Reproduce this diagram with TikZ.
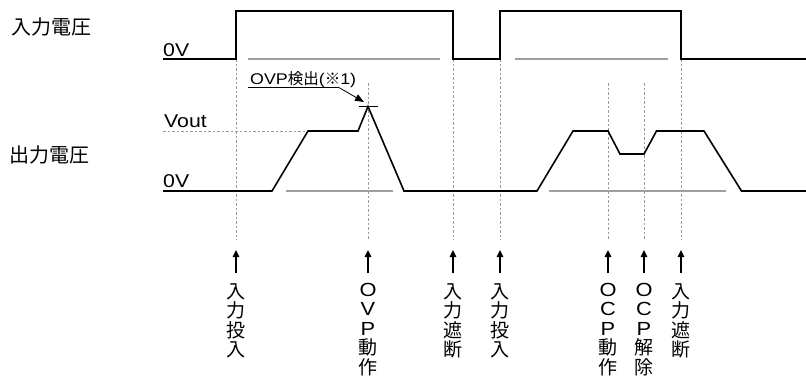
\documentclass[tikz,border=0pt]{standalone}
\usepackage{fontspec}
\setmainfont{Liberation Sans}[FakeStretch=1.15]
\newfontfamily\jp{Noto Sans CJK JP}
\newcommand{\latn}[1]{{\rmfamily #1}}
\usetikzlibrary{arrows.meta}
\begin{document}
\begin{tikzpicture}[x=1pt,y=-1pt,
  wave/.style={line width=1.6pt, line join=miter},
  base/.style={line width=1.6pt, gray!75},
  guide/.style={line width=0.5pt, gray!80, dash pattern=on 2.5pt off 2pt},
  evarrow/.style={-{Triangle[length=7pt,width=6.5pt]}, line width=1.1pt},
  vlab/.style={anchor=north, inner sep=0pt, align=center, font=\fontsize{19}{19.5}\selectfont\jp},
  side/.style={anchor=west, inner sep=0pt, font=\fontsize{20}{22}\selectfont\jp},
  lvl/.style={anchor=base west, inner sep=0pt, font=\fontsize{18.5}{20}\selectfont}
]
\useasboundingbox (0,0) rectangle (806,381);

% side labels
\node[side] (inlab) at (11,27) {入力電圧};
\node[side] (outlab) at (9,155) {出力電圧};
\node[lvl] (zin) at (163,56) {0V};
\node[lvl] (vout) at (164,127) {Vout};
\node[lvl] (zout) at (163,187.5) {0V};

% guides
\draw[guide] (163,131) -- (308,131);
\foreach \x/\t in {236/59, 368/83, 453/59, 500/59, 608/83, 644/83, 681/59}
  \draw[guide] (\x,\t) -- (\x,240);

% base lines
\draw[base] (248,59) -- (440,59);
\draw[base] (515,59) -- (668,59);
\draw[base] (286,191) -- (393,191);
\draw[base] (549,191) -- (726,191);

% input waveform
\draw[wave] (163,59) -- (236,59) -- (236,11) -- (453,11) -- (453,59) -- (500,59)
  -- (500,11) -- (681,11) -- (681,59) -- (806,59);

% output waveform
\draw[wave] (163,191) -- (272,191) -- (308,131) -- (358,131) -- (368,106.5)
  -- (404,191) -- (537,191) -- (573,131) -- (608,131) -- (620,154) -- (644,154)
  -- (656.5,131) -- (704,131) -- (741.5,191) -- (806,191);

% peak tick
\draw[line width=0.8pt] (359,106.5) -- (378,106.5);

% OVP label
\node[anchor=base west, inner sep=0pt, font=\fontsize{15.5}{17}\selectfont] (ovp) at (250,84)
  {OVP{\jp 検出}(\jp ※\rmfamily 1)};
\coordinate (ulA) at (248,87);
\coordinate (ulB) at (338,87);
\coordinate (peak) at (364,102);
\draw[line width=0.8pt] (ulA) -- (ulB);
\draw[-{Triangle[length=9pt,width=7pt]}, line width=0.8pt] (ulB) -- (peak);

% event arrows and labels
\foreach \n/\x in {a/236, b/368, c/453, d/500, e/608, f/644, g/681} {
  \coordinate (\n0) at (\x,273);
  \coordinate (\n1) at (\x,250);
  \draw[evarrow] (\n0) -- (\n1);
}
\node[vlab] (la) at (236,283) {入\\力\\投\\入};
\node[vlab] (lb) at (368,283) {\latn{O}\\\latn{V}\\\latn{P}\\動\\作};
\node[vlab] (lc) at (453,283) {入\\力\\遮\\断};
\node[vlab] (ld) at (500,283) {入\\力\\投\\入};
\node[vlab] (le) at (608,283) {\latn{O}\\\latn{C}\\\latn{P}\\動\\作};
\node[vlab] (lf) at (644,283) {\latn{O}\\\latn{C}\\\latn{P}\\解\\除};
\node[vlab] (lg) at (681,283) {入\\力\\遮\\断};
\end{tikzpicture}
\end{document}
